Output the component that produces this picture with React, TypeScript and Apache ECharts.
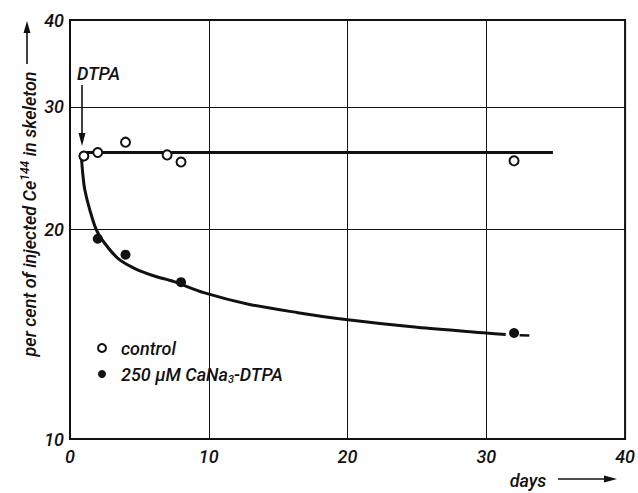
import React, { useEffect, useRef } from 'react';
import * as echarts from 'echarts';

const controlDays = [1, 2, 4, 7, 8, 32];
const controlValues = [25.5, 25.8, 26.7, 25.6, 25.0, 25.1];
const dtpaDays = [2, 4, 8, 32];
const dtpaValues = [19.4, 18.4, 16.8, 14.2];
const controlFitDays = [1.2, 34.8];
const controlFitValues = [25.8, 25.8];
const dtpaFitDays = [0.82, 0.93, 1.07, 1.43, 1.9, 2.5, 3.45, 4.64, 6.07, 7.5, 9.64, 12.86, 16.43, 19.86, 25, 30, 31.4];
const dtpaFitValues = [25.4, 23.95, 22.79, 21.33, 19.97, 19.11, 18.18, 17.59, 17.15, 16.83, 16.23, 15.62, 15.19, 14.85, 14.47, 14.2, 14.13];
const dtpaTailDays = [32.4, 33.1];
const dtpaTailValues = [14.1, 14.08];
const yTickValues = [10, 20, 30, 40];
const controlName = 'control';
const dtpaName = '250 μM CaNa3-DTPA';

const FONT = "Roboto, 'Liberation Sans', sans-serif";
const INK = '#111';

const zip = (xs: number[], ys: number[]) => xs.map((x, i) => [x, ys[i]]);

export default function App() {
  const ref = useRef<HTMLDivElement>(null);
  useEffect(() => {
    document.body.style.margin = '0';
    const chart = echarts.init(ref.current!, null, { renderer: 'svg' });
    const textBase = { fontFamily: FONT, fontStyle: 'italic', fontWeight: 500, fontSize: 18, color: INK };
    chart.setOption({
      animation: false,
      backgroundColor: '#fff',
      grid: { left: 70, top: 20, right: 8, bottom: 54, show: true, borderColor: INK, borderWidth: 2 },
      xAxis: {
        type: 'value', min: 0, max: 40, interval: 10,
        axisLine: { show: true, lineStyle: { color: INK, width: 2 } },
        axisTick: { show: false },
        axisLabel: { ...textBase, margin: 8 },
        splitLine: { show: true, lineStyle: { color: INK, width: 1 } },
      },
      yAxis: {
        type: 'log', logBase: 10, min: 10, max: 40,
        axisLine: { show: true, lineStyle: { color: INK, width: 2 } },
        axisTick: { show: false, customValues: yTickValues },
        axisLabel: { ...textBase, margin: 6, customValues: yTickValues },
        splitLine: { show: true, lineStyle: { color: INK, width: 1 } },
      },
      legend: {
        left: 92, top: 334, orient: 'vertical', itemGap: 8, itemWidth: 8, itemHeight: 8,
        data: [{ name: controlName, icon: 'emptyCircle' }, { name: dtpaName, icon: 'circle' }],
        formatter: (n: string) => (n === controlName ? 'control' : '250 μM CaNa{sub|3}-DTPA'),
        textStyle: {
          ...textBase, padding: [0, 0, 0, 10],
          rich: { sub: { fontFamily: FONT, fontStyle: 'italic', fontWeight: 500, fontSize: 11, color: INK, padding: [10, 0, 0, 0] } },
        },
      },
      series: [
        {
          type: 'line', data: zip(controlFitDays, controlFitValues), showSymbol: false, silent: true,
          lineStyle: { color: INK, width: 3 }, z: 2,
        },
        {
          type: 'line', data: zip(dtpaFitDays, dtpaFitValues), showSymbol: false, smooth: 0.3, silent: true,
          lineStyle: { color: INK, width: 3 }, z: 2,
        },
        {
          type: 'line', data: zip(dtpaTailDays, dtpaTailValues), showSymbol: false, silent: true,
          lineStyle: { color: INK, width: 2.5 }, z: 2,
        },
        {
          name: controlName, type: 'scatter', data: zip(controlDays, controlValues), symbol: 'emptyCircle', symbolSize: 9,
          itemStyle: { color: INK, borderWidth: 1.6, opacity: 1 }, z: 5,
        },
        {
          name: dtpaName, type: 'scatter', data: zip(dtpaDays, dtpaValues), symbol: 'circle', symbolSize: 10,
          itemStyle: { color: INK, opacity: 1 }, z: 5,
        },
      ],
      graphic: [
        {
          type: 'text', x: 29, y: 214, rotation: Math.PI / 2,
          style: {
            text: 'per cent of injected Ce{sup|144} in skeleton',
            fontFamily: FONT, fontStyle: 'italic', fontWeight: 500, fontSize: 18, fill: INK, align: 'center', verticalAlign: 'middle',
            rich: { sup: { fontFamily: FONT, fontStyle: 'italic', fontWeight: 500, fontSize: 12, fill: INK, verticalAlign: 'top', padding: [0, 0, 8, 0] } },
          },
        },
        { type: 'line', shape: { x1: 27, y1: 64, x2: 27, y2: 30 }, style: { stroke: INK, lineWidth: 1.6 } },
        { type: 'polygon', shape: { points: [[27, 21], [23.5, 33], [30.5, 33]] }, style: { fill: INK } },
        { type: 'text', x: 77, y: 73, style: { text: 'DTPA', fontFamily: FONT, fontStyle: 'italic', fontWeight: 500, fontSize: 18, fill: INK, verticalAlign: 'middle' } },
        { type: 'line', shape: { x1: 82, y1: 85, x2: 82, y2: 136 }, style: { stroke: INK, lineWidth: 1.6 } },
        { type: 'polygon', shape: { points: [[82, 146], [78.5, 133], [85.5, 133]] }, style: { fill: INK } },
        { type: 'text', x: 528, y: 480, style: { text: 'days', fontFamily: FONT, fontStyle: 'italic', fontWeight: 500, fontSize: 18, fill: INK, align: 'center', verticalAlign: 'middle' } },
        { type: 'line', shape: { x1: 558, y1: 479, x2: 607, y2: 479 }, style: { stroke: INK, lineWidth: 1.6 } },
        { type: 'polygon', shape: { points: [[617, 479], [604, 475.5], [604, 482.5]] }, style: { fill: INK } },
      ],
    });
    return () => chart.dispose();
  }, []);
  return <div ref={ref} style={{ width: 638, height: 493, position: 'absolute', left: 0, top: 0 }} />;
}
